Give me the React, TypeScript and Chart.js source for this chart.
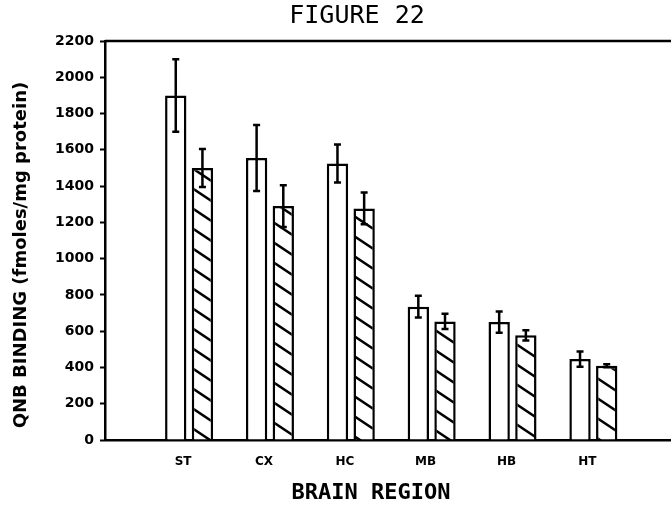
import React, { useEffect, useRef } from "react";
import { Chart, registerables } from "chart.js";

Chart.register(...registerables);

const categories = ["ST", "CX", "HC", "MB", "HB", "HT"];
const openValues = [1900, 1555, 1525, 735, 650, 446];
const openErrors = [200, 182, 105, 60, 58, 42];
const hatchedValues = [1500, 1290, 1277, 654, 577, 409];
const hatchedErrors = [105, 115, 88, 42, 28, 8];
const yMin = 0;
const yMax = 2200;
const yStep = 200;
const titleText = "FIGURE 22";
const xTitleText = "BRAIN REGION";
const yTitleText = "QNB BINDING (fmoles/mg protein)";

function makeHatch(): CanvasPattern | string {
  const W = 30;
  const H = 20;
  const c = document.createElement("canvas");
  c.width = W;
  c.height = H;
  const g = c.getContext("2d");
  if (!g) return "#fff";
  g.fillStyle = "#fff";
  g.fillRect(0, 0, W, H);
  g.strokeStyle = "#000";
  g.lineWidth = 2.5;
  for (const k of [-1, 0, 1]) {
    g.beginPath();
    g.moveTo(-W, -H + k * H);
    g.lineTo(2 * W, 2 * H + k * H);
    g.stroke();
  }
  return g.createPattern(c, "repeat") || "#fff";
}

const errorBarPlugin = {
  id: "errorBars",
  afterDatasetsDraw(chart: any) {
    const ctx = chart.ctx;
    const y = chart.scales.y;
    const vals = [openValues, hatchedValues];
    const errs = [openErrors, hatchedErrors];
    ctx.save();
    ctx.strokeStyle = "#000";
    ctx.lineWidth = 2.5;
    chart.data.datasets.forEach((_ds: any, i: number) => {
      const meta = chart.getDatasetMeta(i);
      meta.data.forEach((el: any, j: number) => {
        const v = vals[i][j];
        const e = errs[i][j];
        const top = y.getPixelForValue(v + e);
        const bot = y.getPixelForValue(v - e);
        const x = el.x;
        ctx.beginPath();
        ctx.moveTo(x, top);
        ctx.lineTo(x, bot);
        ctx.moveTo(x - 3.5, top);
        ctx.lineTo(x + 3.5, top);
        ctx.moveTo(x - 3.5, bot);
        ctx.lineTo(x + 3.5, bot);
        ctx.stroke();
      });
    });
    ctx.restore();
  },
};

const framePlugin = {
  id: "frameTop",
  afterDraw(chart: any) {
    const { ctx, chartArea } = chart;
    ctx.save();
    ctx.strokeStyle = "#000";
    ctx.lineWidth = 2.5;
    ctx.beginPath();
    ctx.moveTo(chartArea.left, chartArea.top);
    ctx.lineTo(chartArea.right, chartArea.top);
    ctx.stroke();
    ctx.restore();
  },
};

const textPlugin = {
  id: "texts",
  afterDraw(chart: any) {
    const ctx = chart.ctx;
    ctx.save();
    ctx.fillStyle = "#000";
    ctx.textAlign = "center";
    ctx.textBaseline = "middle";
    ctx.font = '25px "DejaVu Sans Mono"';
    ctx.fillText(titleText, 357, 16);
    ctx.font = 'bold 22px "DejaVu Sans Mono"';
    ctx.fillText(xTitleText, 371, 493);
    ctx.translate(21, 255);
    ctx.rotate(-Math.PI / 2);
    ctx.font = 'bold 18px "DejaVu Sans"';
    ctx.fillText(yTitleText, 0, 0);
    ctx.restore();
  },
};

export default function App() {
  const ref = useRef<HTMLCanvasElement | null>(null);

  useEffect(() => {
    if (!ref.current) return;
    const hatch = makeHatch();
    const chart = new Chart(ref.current, {
      type: "bar",
      data: {
        datasets: [
          {
            label: "open",
            data: categories.map((_, i) => ({ x: i + 1, y: openValues[i] })),
            backgroundColor: "#ffffff",
            borderColor: "#000000",
            borderWidth: 2.5,
            categoryPercentage: 0.66,
            barPercentage: 0.8,
          },
          {
            label: "hatched",
            data: categories.map((_, i) => ({ x: i + 1, y: hatchedValues[i] })),
            backgroundColor: hatch as any,
            borderColor: "#000000",
            borderWidth: 2.5,
            categoryPercentage: 0.66,
            barPercentage: 0.8,
          },
        ],
      },
      options: {
        animation: false,
        responsive: false,
        devicePixelRatio: 1,
        layout: { padding: { top: 41, left: 0, right: 0, bottom: 0 } },
        plugins: {
          legend: { display: false },
          tooltip: { enabled: false },
          title: { display: false },
        },
        scales: {
          x: {
            type: "linear",
            min: -0.04,
            max: 6.96,
            offset: false,
            grid: { display: false, drawTicks: false },
            border: { display: true, color: "#000", width: 2.5 },
            afterBuildTicks: (axis: any) => {
              axis.ticks = categories.map((_, i) => ({ value: i + 1 }));
            },
            afterFit: (axis: any) => {
              axis.height = 79;
            },
            ticks: {
              autoSkip: false,
              maxRotation: 0,
              padding: 15,
              labelOffset: -6,
              color: "#000",
              font: { family: "DejaVu Sans", weight: "bold", size: 12 },
              callback: (value: any) => categories[Math.round(Number(value)) - 1] ?? "",
            },
          },
          y: {
            min: yMin,
            max: yMax,
            grid: {
              drawOnChartArea: false,
              drawTicks: true,
              tickLength: 5,
              tickWidth: 2,
              tickColor: "#000",
            },
            border: { display: true, color: "#000", width: 2.5 },
            afterFit: (axis: any) => {
              axis.width = 105;
            },
            ticks: {
              stepSize: yStep,
              padding: 6,
              color: "#000",
              font: { family: "DejaVu Sans", weight: "bold", size: 14 },
              callback: (value: any) => String(value),
            },
          },
        },
      },
      plugins: [errorBarPlugin, framePlugin, textPlugin],
    } as any);
    return () => chart.destroy();
  }, []);

  return (
    <div style={{ position: "fixed", left: 0, top: 0, width: 671, height: 519, background: "#fff" }}>
      <canvas ref={ref} width={671} height={519} style={{ display: "block" }} />
    </div>
  );
}
